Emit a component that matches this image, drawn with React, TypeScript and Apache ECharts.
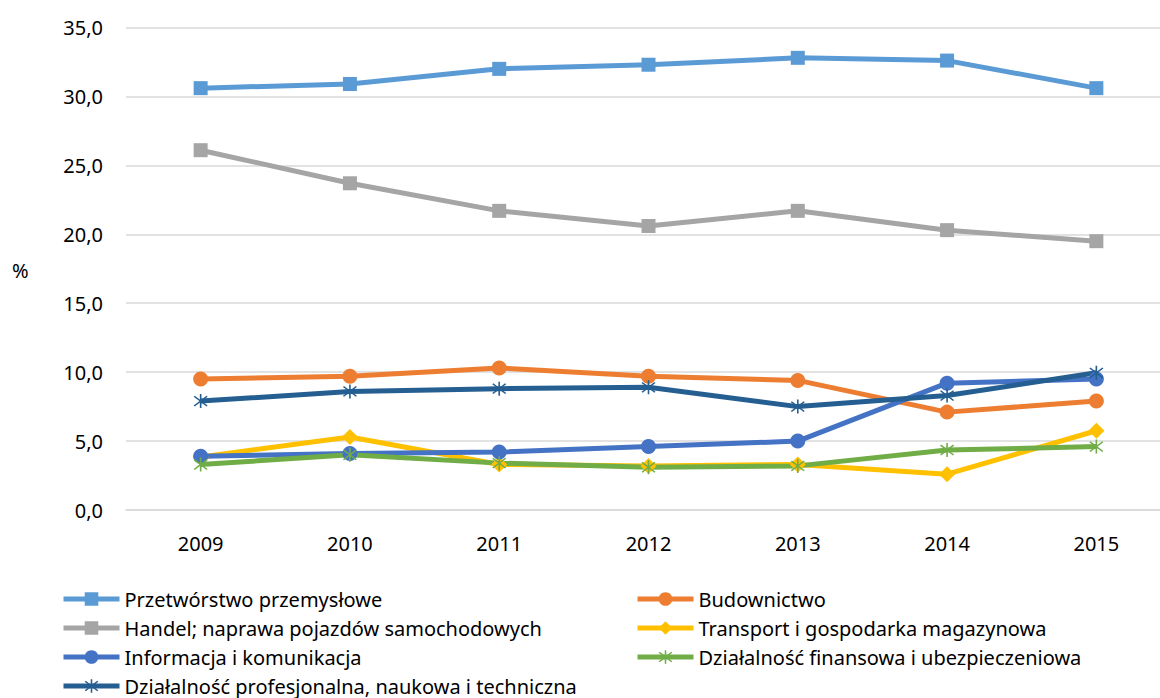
import React, { useEffect, useRef } from "react";
import * as echarts from "echarts";

const years = ["2009", "2010", "2011", "2012", "2013", "2014", "2015"];
const przetworstwo = [30.6, 30.9, 32.0, 32.3, 32.8, 32.6, 30.6];
const budownictwo = [9.5, 9.7, 10.3, 9.7, 9.4, 7.1, 7.9];
const handel = [26.1, 23.7, 21.7, 20.6, 21.7, 20.3, 19.5];
const transport = [3.85, 5.3, 3.3, 3.2, 3.3, 2.6, 5.75];
const informacja = [3.9, 4.1, 4.2, 4.6, 5.0, 9.2, 9.5];
const finansowa = [3.3, 4.0, 3.4, 3.1, 3.2, 4.35, 4.6];
const profesjonalna = [7.9, 8.6, 8.8, 8.9, 7.5, 8.3, 9.95];
const yTicks = [0, 5, 10, 15, 20, 25, 30, 35];

const ASTERISK =
  "path://M9,0L11,0L11,20L9,20Z M2.66,2.25L18.66,16.25L17.34,17.75L1.34,3.75Z M17.34,2.25L18.66,3.75L2.66,17.75L1.34,16.25Z";

const FONT = "Noto Sans";

type S = { name: string; data: number[]; color: string; symbol: string; size: number };
const seriesDefs: S[] = [
  { name: "Przetwórstwo przemysłowe", data: przetworstwo, color: "#5B9BD5", symbol: "rect", size: 14 },
  { name: "Budownictwo", data: budownictwo, color: "#ED7D31", symbol: "circle", size: 15 },
  { name: "Handel; naprawa pojazdów samochodowych", data: handel, color: "#A5A5A5", symbol: "rect", size: 14 },
  { name: "Transport i gospodarka magazynowa", data: transport, color: "#FFC000", symbol: "diamond", size: 16 },
  { name: "Informacja i komunikacja", data: informacja, color: "#4472C4", symbol: "circle", size: 15 },
  { name: "Działalność finansowa i ubezpieczeniowa", data: finansowa, color: "#70AD47", symbol: ASTERISK, size: 14 },
  { name: "Działalność profesjonalna, naukowa i techniczna", data: profesjonalna, color: "#255E91", symbol: ASTERISK, size: 14 },
];

const leftLegend = [
  "Przetwórstwo przemysłowe",
  "Handel; naprawa pojazdów samochodowych",
  "Informacja i komunikacja",
  "Działalność profesjonalna, naukowa i techniczna",
];
const rightLegend = [
  "Budownictwo",
  "Transport i gospodarka magazynowa",
  "Działalność finansowa i ubezpieczeniowa",
];

export default function App() {
  const ref = useRef<HTMLDivElement>(null);
  useEffect(() => {
    if (!ref.current) return;
    const chart = echarts.init(ref.current, undefined, { renderer: "svg" });
    const legendCommon = {
      orient: "vertical" as const,
      top: 589,
      padding: 0,
      itemWidth: 56,
      itemHeight: 17,
      itemGap: 9,
      lineStyle: { width: 5 },
      textStyle: { fontFamily: FONT, fontSize: 20, color: "#000", lineHeight: 20 },
    };
    chart.setOption({
      animation: false,
      backgroundColor: "#fff",
      textStyle: { fontFamily: FONT },
      grid: {
        left: 126,
        width: 1045,
        top: 27.5,
        bottom: 188,
        containLabel: false,
        outerBoundsMode: "none",
      },
      legend: [
        { ...legendCommon, left: 61, data: leftLegend },
        { ...legendCommon, left: 635, data: rightLegend },
      ],
      graphic: [
        {
          type: "text",
          left: 12,
          top: 260,
          style: { text: "%", fontFamily: FONT, fontSize: 20, fill: "#000" },
        },
      ],
      xAxis: {
        type: "category",
        data: years,
        boundaryGap: true,
        axisLine: { show: true, lineStyle: { color: "#D9D9D9", width: 1.5 } },
        axisTick: { show: false },
        axisLabel: { fontFamily: FONT, fontSize: 20, color: "#000", margin: 23 },
      },
      yAxis: {
        type: "value",
        min: yTicks[0],
        max: yTicks[yTicks.length - 1],
        interval: 5,
        axisLine: { show: false },
        axisTick: { show: false },
        splitLine: { lineStyle: { color: "#D9D9D9", width: 1.5 } },
        axisLabel: {
          fontFamily: FONT,
          fontSize: 20,
          color: "#000",
          margin: 23,
          formatter: (v: number) => v.toFixed(1).replace(".", ","),
        },
      },
      series: seriesDefs.map((s) => ({
        name: s.name,
        type: "line",
        data: s.data,
        symbol: s.symbol,
        symbolSize: s.size,
        showSymbol: true,
        lineStyle: { color: s.color, width: 5 },
        itemStyle: { color: s.color, borderWidth: 0 },
        emphasis: { disabled: true },
      })),
    });
    return () => chart.dispose();
  }, []);
  return (
    <div
      ref={ref}
      style={{ position: "absolute", left: 0, top: 0, width: 1160, height: 698 }}
    />
  );
}
